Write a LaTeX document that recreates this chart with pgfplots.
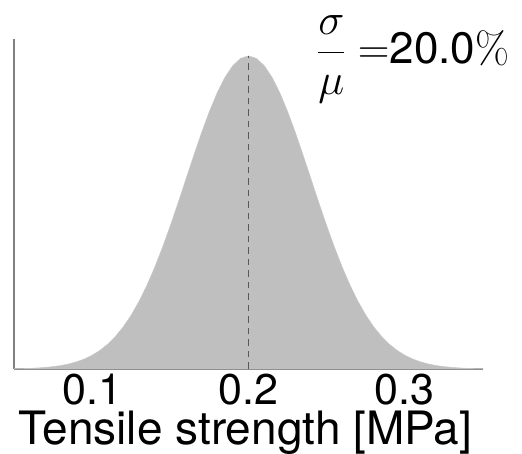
\documentclass[border=0pt]{standalone}
\usepackage{fix-cm}
\usepackage{pgfplots}
\pgfplotsset{compat=1.18}
\usepackage{amsmath}
\usepackage[no-math]{fontspec}
\setmainfont{TeX Gyre Heros}
\begin{document}
\begin{tikzpicture}
\useasboundingbox (0,0) rectangle (522bp,454bp);
\begin{axis}[
  at={(14bp,85bp)}, anchor=south west,
  scale only axis, width=469bp, height=330bp,
  xmin=0.05, xmax=0.35, ymin=0, ymax=1.054,
  axis x line*=bottom, axis y line*=left,
  axis line style={-, draw=black!50, line width=1.3bp},
  ytick=\empty,
  xtick={0.1,0.2,0.3},
  xticklabels={0.1,0.2,0.3},
  major tick length=5bp,
  tick style={draw=black!50, line width=1bp},
  tick align=inside,
  /pgf/number format/assume math mode=true,
  xticklabel style={font=\fontsize{43bp}{44bp}\selectfont, anchor=base, inner sep=0pt, yshift=-35bp},
  xlabel={Tensile strength [MPa]},
  xlabel style={font=\fontsize{46bp}{48bp}\selectfont, at={(axis description cs:0.5,0)}, anchor=base, inner sep=0pt, yshift=-75bp, xshift=-3bp},
  clip=false,
]
\addplot[fill=black!25, draw=black!22, line width=0.5bp] coordinates {
(0.050,0.000883) (0.055,0.001401) (0.060,0.002187) (0.065,0.003361)
(0.070,0.005086) (0.075,0.007577) (0.080,0.011109) (0.085,0.016034)
(0.090,0.022794) (0.095,0.031900) (0.100,0.043937) (0.105,0.059578)
(0.110,0.079559) (0.115,0.104584) (0.120,0.135335) (0.125,0.172422)
(0.130,0.216265) (0.135,0.267063) (0.140,0.324652) (0.145,0.388575)
(0.150,0.457833) (0.155,0.531091) (0.160,0.606531) (0.165,0.681941)
(0.170,0.754840) (0.175,0.822578) (0.180,0.882497) (0.185,0.932102)
(0.190,0.969233) (0.195,0.992218) (0.200,1.000000) (0.205,0.992218)
(0.210,0.969233) (0.215,0.932102) (0.220,0.882497) (0.225,0.822578)
(0.230,0.754840) (0.235,0.681941) (0.240,0.606531) (0.245,0.531091)
(0.250,0.457833) (0.255,0.388575) (0.260,0.324652) (0.265,0.267063)
(0.270,0.216265) (0.275,0.172422) (0.280,0.135335) (0.285,0.104584)
(0.290,0.079559) (0.295,0.059578) (0.300,0.043937) (0.305,0.031900)
(0.310,0.022794) (0.315,0.016034) (0.320,0.011109) (0.325,0.007577)
(0.330,0.005086) (0.335,0.003361) (0.340,0.002187) (0.345,0.001401)
(0.350,0.000883)
} \closedcycle;
\addplot[draw=black!65, line width=1.5bp, dash pattern=on 6.5bp off 5bp] coordinates {(0.2,0) (0.2,1)};
\end{axis}
\node[anchor=base west, inner sep=0pt, font=\fontsize{44bp}{46bp}\selectfont] at (317bp,390bp) {$\dfrac{\sigma}{\mu}=$20.0$\%$};
\end{tikzpicture}
\end{document}
